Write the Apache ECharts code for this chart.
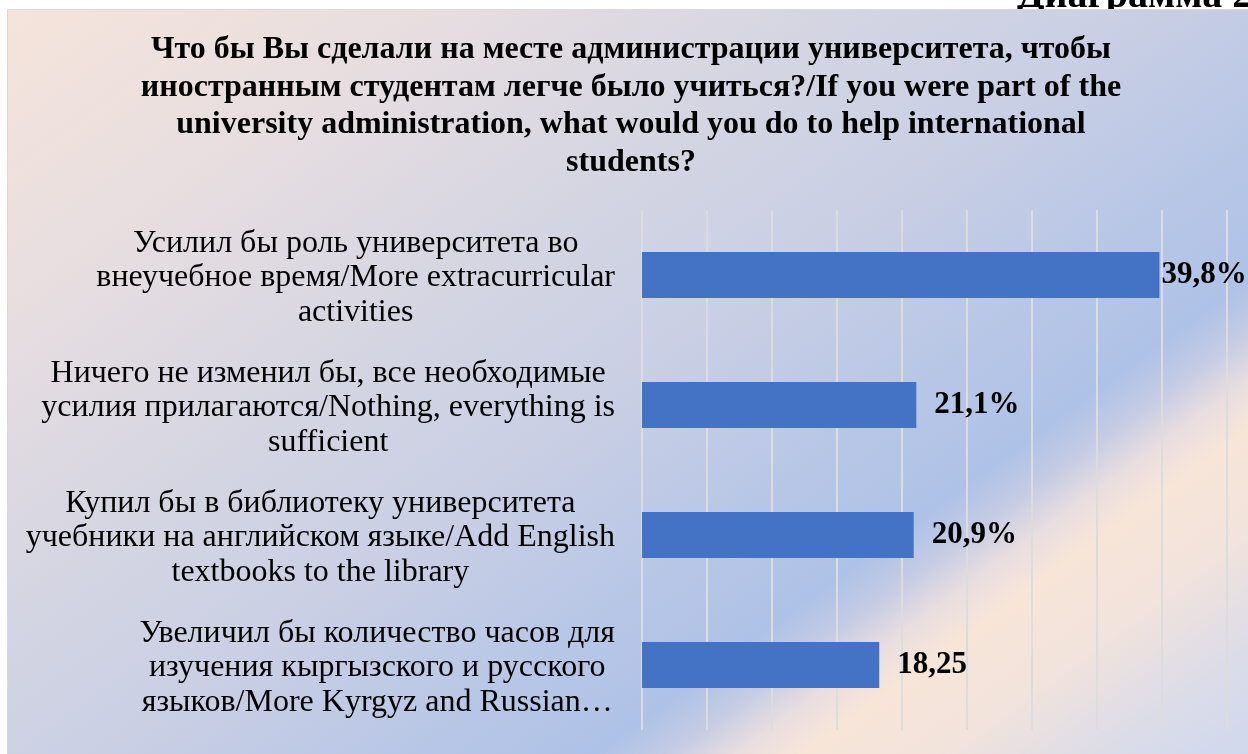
<!DOCTYPE html>
<html>
<head>
<meta charset="utf-8">
<script src="https://cdn.jsdelivr.net/npm/echarts@6/dist/echarts.min.js"></script>
<style>
  html, body { margin: 0; padding: 0; background: #fff; }
  #chart { width: 1248px; height: 754px; }
</style>
</head>
<body>
<div id="chart"></div>
<script>
// данные диаграммы
const categories = [
  'Усилил бы роль университета во\nвнеучебное время/More extracurricular\nactivities',
  'Ничего не изменил бы, все необходимые\nусилия прилагаются/Nothing, everything is\nsufficient',
  'Купил бы в библиотеку университета\nучебники на английском языке/Add English\ntextbooks to the library',
  'Увеличил бы количество часов для\nизучения кыргызского и русского\nязыков/More Kyrgyz and Russian…'
]
const values = [39.8, 21.1, 20.9, 18.25]
const valueLabels = ['39,8%', '21,1%', '20,9%', '18,25']
const titleLines = [
  'Что бы Вы сделали на месте администрации университета, чтобы',
  'иностранным студентам легче было учиться?/If you were part of the',
  'university administration, what would you do to help international',
  'students?'
]

const serif = '"Liberation Serif", "DejaVu Serif", serif'
const chart = echarts.init(document.getElementById('chart'))

// фон панели
const panelFill = new echarts.graphic.LinearGradient(8, 9, 795, 1090, [
  { offset: 0, color: '#f5e4da' },
  { offset: 0.18, color: '#e8dee0' },
  { offset: 0.35, color: '#d6d6e2' },
  { offset: 0.5, color: '#c9cfe4' },
  { offset: 0.62, color: '#b9c7e6' },
  { offset: 0.71, color: '#aec2e7' },
  { offset: 0.74, color: '#c4cbe4' },
  { offset: 0.77, color: '#e8dde0' },
  { offset: 0.8, color: '#f7e5d8' },
  { offset: 0.86, color: '#f2e3dc' },
  { offset: 0.93, color: '#dcdce8' },
  { offset: 1, color: '#cfd8ee' }
], true)

chart.setOption({
  backgroundColor: '#ffffff',
  animation: false,
  graphic: [
    {
      type: 'text', z: -20,
      style: {
        text: 'Диаграмма 28', x: 1017, y: -3,
        font: 'bold 40px ' + serif, fill: '#000',
        textAlign: 'left', verticalAlign: 'middle'
      }
    },
    {
      type: 'rect', z: -10,
      shape: { x: 7.5, y: 9.5, width: 1250, height: 750 },
      style: { fill: panelFill, stroke: '#d9d9d9', lineWidth: 1 }
    }
  ],
  title: {
    text: titleLines.join('\n'),
    left: 631,
    top: 31,
    padding: 0,
    textAlign: 'center',
    textStyle: {
      fontFamily: serif, fontWeight: 'bold', fontSize: 32,
      lineHeight: 37.5, color: '#000'
    }
  },
  grid: { left: 642, right: 21, top: 210, bottom: 24, containLabel: false },
  xAxis: {
    type: 'value', min: 0, max: 45, interval: 5,
    axisLabel: { show: false },
    axisLine: { show: false },
    axisTick: { show: false },
    splitLine: { show: true, lineStyle: { color: '#dcdcdc', width: 2 } }
  },
  yAxis: {
    type: 'category', inverse: true, data: categories,
    axisLine: { show: false },
    axisTick: { show: false },
    axisLabel: {
      margin: 27,
      padding: [6, 0, 0, 0],
      formatter: (v) => v.split('\n').map(l => '{c|' + l + '}').join('\n'),
      rich: {
        c: { align: 'center', fontFamily: serif, fontSize: 32, lineHeight: 34.5, color: '#000' }
      }
    }
  },
  series: [{
    type: 'bar',
    barWidth: 46,
    data: values.map((v, i) => ({
      value: v,
      label: i === 0 ? { distance: 2 } : undefined
    })),
    itemStyle: { color: '#4472c4' },
    label: {
      show: true, position: 'right', distance: 18,
      formatter: (p) => valueLabels[p.dataIndex],
      fontFamily: serif, fontWeight: 'bold', fontSize: 31, color: '#000'
    }
  }]
})
</script>
</body>
</html>
